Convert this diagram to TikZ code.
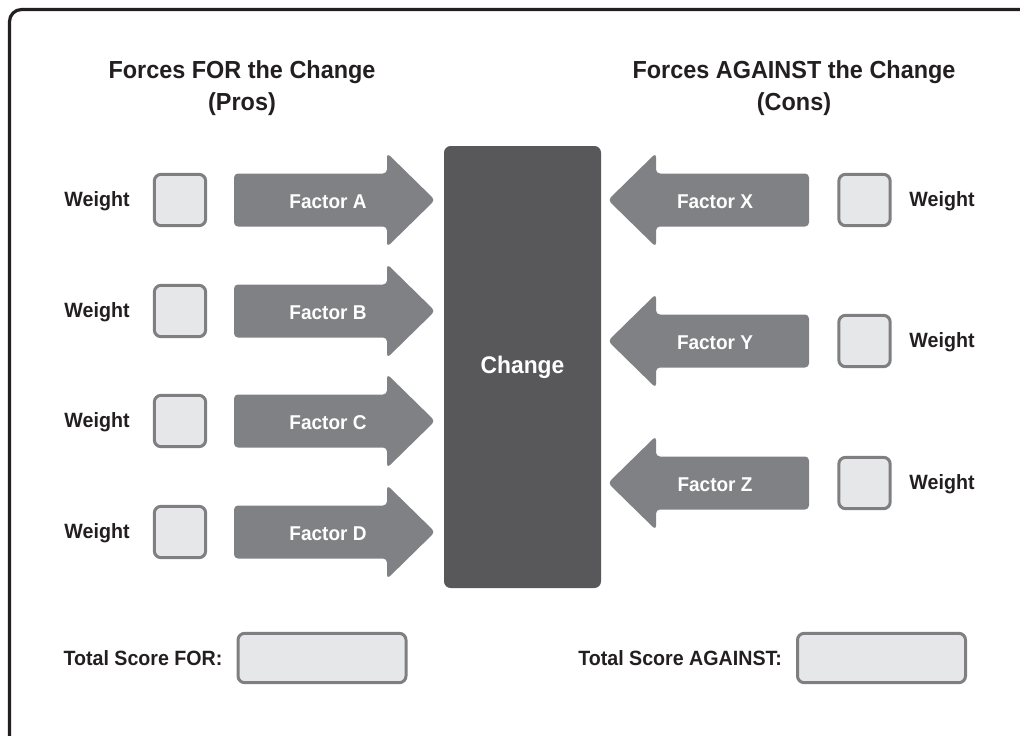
\documentclass[tikz,border=0pt]{standalone}
\usepackage{fontspec}
\setmainfont{Liberation Sans}[FakeStretch=0.95]
\usepackage{tikz}
\usetikzlibrary{positioning}

\definecolor{arrowgray}{HTML}{808184}
\definecolor{changegray}{HTML}{58585A}
\definecolor{boxfill}{HTML}{E6E7E8}
\definecolor{boxline}{HTML}{7F7F81}
\definecolor{inkblack}{HTML}{231F20}

\begin{document}
\begin{tikzpicture}[x=0.75pt,y=-0.75pt,
    title/.style={font=\bfseries\fontsize{18.5}{24.5}\selectfont,text=inkblack,align=center},
    wlab/.style={font=\bfseries\fontsize{15.5}{18}\selectfont,text=inkblack},
    flab/.style={font=\bfseries\fontsize{15}{18}\selectfont,text=white},
    wbox/.style={draw=boxline,fill=boxfill,line width=2.25pt,rounded corners=5pt,minimum size=38.5pt,inner sep=0pt},
    tbox/.style={draw=boxline,fill=boxfill,line width=2.25pt,rounded corners=5pt,minimum width=126pt,minimum height=37pt,inner sep=0pt},
    force/.style={fill=arrowgray,rounded corners=3pt}]
  \useasboundingbox (0,0) rectangle (1020,735);
  % frame, cut off at right and bottom
  \draw[line width=2.4pt,inkblack,rounded corners=9pt] (1030,9.5) -- (9.5,9.5) -- (9.5,745);

  \node[title] (protitle) at (242,88) {Forces FOR the Change\\(Pros)};
  \node[title] (contitle) at (794,88) {Forces AGAINST the Change\\(Cons)};

  \node[fill=changegray,rounded corners=5pt,minimum width=117.75pt,minimum height=331.5pt] (change) at (522.5,367) {};
  \node[font=\bfseries\fontsize{18}{22}\selectfont,text=white] (changelab) at (change.center) {Change};

  % pros
  \foreach \i/\y in {A/200,B/311,C/421,D/532} {
    \node[wlab] (wl\i) at (97,\y+1.5) {Weight};
    \node[wbox] (wb\i) at (180,\y) {};
    \fill[force] (234,\y-26.5) -- (387,\y-26.5) -- (387,\y-47) -- (435,\y)
      -- (387,\y+47) -- (387,\y+26.5) -- (234,\y+26.5) -- cycle;
    \node[flab] (f\i) at (328,\y+1.5) {Factor \i};
  }
  % cons
  \foreach \i/\y in {X/200,Y/341,Z/483} {
    \fill[force] (809,\y-26.5) -- (656,\y-26.5) -- (656,\y-47) -- (608,\y)
      -- (656,\y+47) -- (656,\y+26.5) -- (809,\y+26.5) -- cycle;
    \node[flab] (f\i) at (715,\y+1.5) {Factor \i};
    \node[wbox] (wb\i) at (864.5,\y) {};
    \node[wlab] (wl\i) at (942,\y+1.5) {Weight};
  }

  \node[tbox] (forbox) at (322,658) {};
  \node[wlab,left=7pt of forbox] (forlab) {Total Score FOR:};
  \node[tbox] (againstbox) at (881.5,658) {};
  \node[wlab,left=7pt of againstbox] (againstlab) {Total Score AGAINST:};
\end{tikzpicture}
\end{document}
